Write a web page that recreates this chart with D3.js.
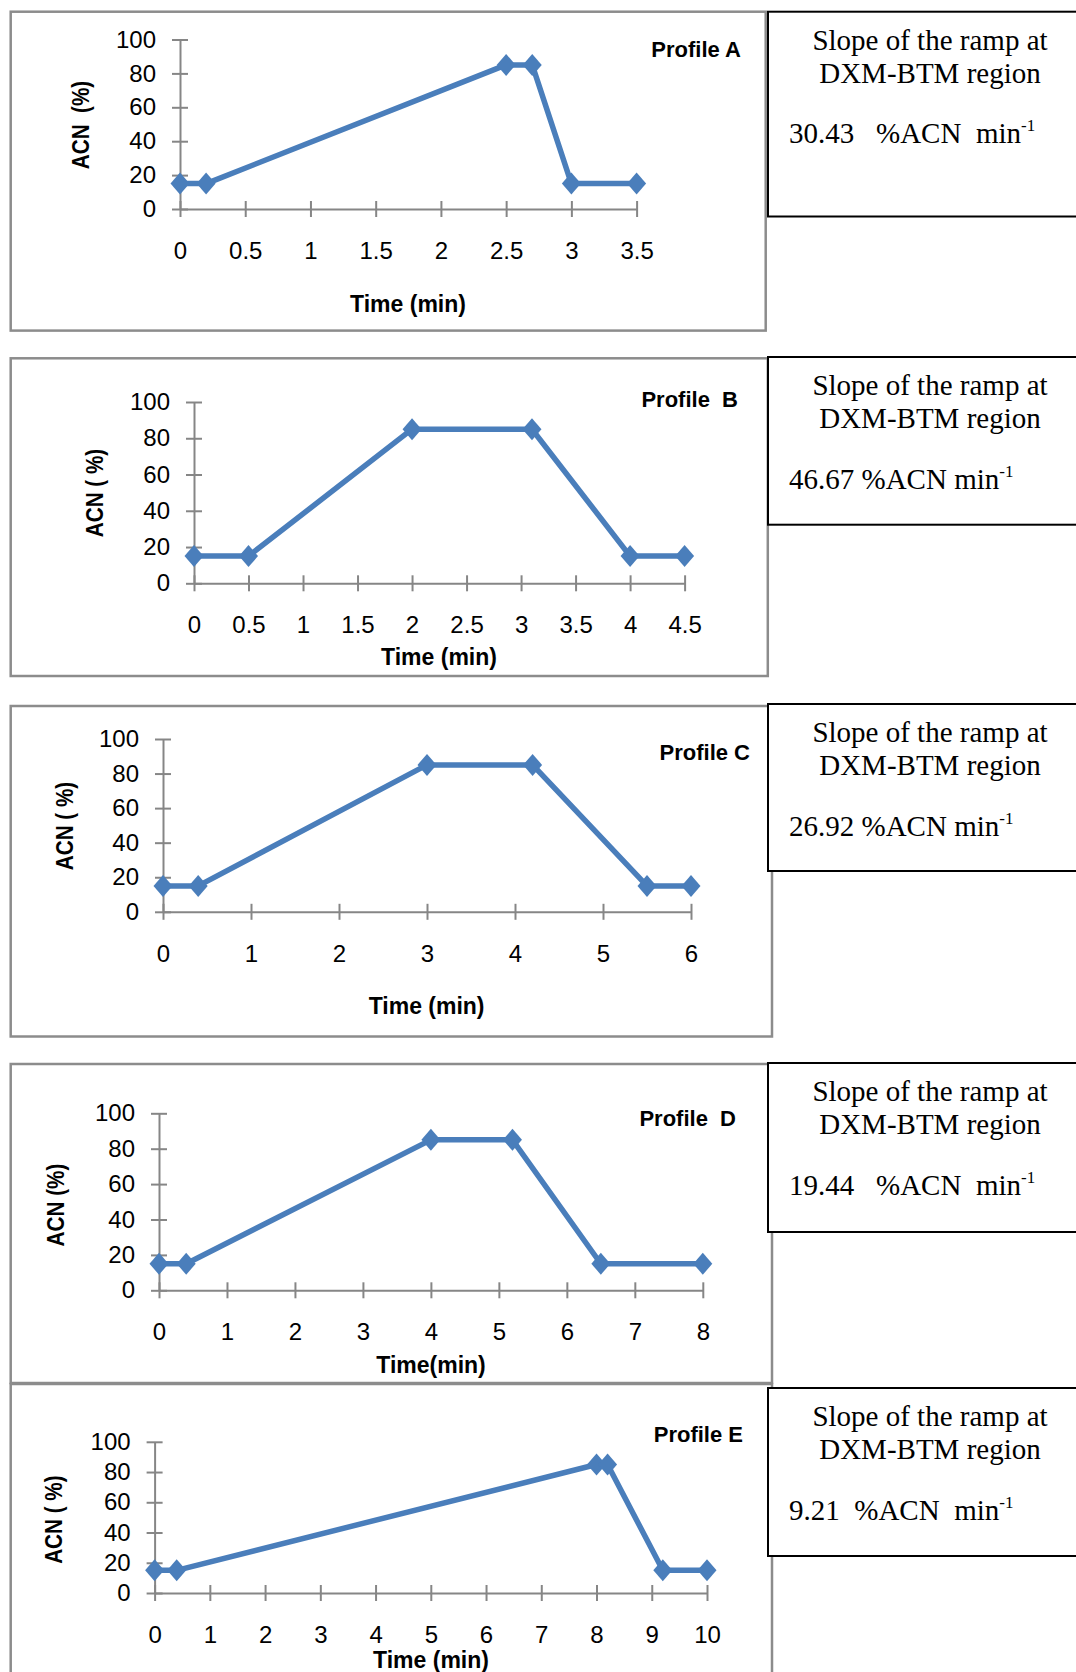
<!DOCTYPE html>
<html>
<head>
<meta charset="utf-8">
<script src="https://cdn.jsdelivr.net/npm/d3@7/dist/d3.min.js"></script>
<style>
  html, body { margin: 0; padding: 0; background: #fff; }
  svg { display: block; }
  text { white-space: pre; }
</style>
</head>
<body>
<svg id="chart" width="1076" height="1672"></svg>
<script>
// ---------------- DATA ----------------
const profileNames = ["Profile A", "Profile  B", "Profile C", "Profile  D", "Profile E"];

const timeA = [0, 0.2, 2.5, 2.7, 3, 3.5];
const acnA  = [15, 15, 85, 85, 15, 15];
const timeB = [0, 0.5, 2, 3.1, 4, 4.5];
const acnB  = [15, 15, 85, 85, 15, 15];
const timeC = [0, 0.4, 3, 4.2, 5.5, 6];
const acnC  = [15, 15, 85, 85, 15, 15];
const timeD = [0, 0.4, 4, 5.2, 6.5, 8];
const acnD  = [15, 15, 85, 85, 15, 15];
const timeE = [0, 0.4, 8, 8.2, 9.2, 10];
const acnE  = [15, 15, 85, 85, 15, 15];

const xTicksA = [0, 0.5, 1, 1.5, 2, 2.5, 3, 3.5];
const xTicksB = [0, 0.5, 1, 1.5, 2, 2.5, 3, 3.5, 4, 4.5];
const xTicksC = [0, 1, 2, 3, 4, 5, 6];
const xTicksD = [0, 1, 2, 3, 4, 5, 6, 7, 8];
const xTicksE = [0, 1, 2, 3, 4, 5, 6, 7, 8, 9, 10];
const yTicks  = [0, 20, 40, 60, 80, 100];

const xTitles = ["Time (min)", "Time (min)", "Time (min)", "Time(min)", "Time (min)"];
const yTitles = ["ACN  (%)", "ACN ( %)", "ACN ( %)", "ACN (%)", "ACN ( %)"];

const slopeValues = ["30.43", "46.67", "26.92", "19.44", "9.21"];
const valueGaps   = ["   ", " ", " ", "   ", "  "];
const unitGaps    = ["  ", " ", " ", "  ", "  "];
const boxLine1 = "Slope of the ramp at";
const boxLine2 = "DXM-BTM region";

const series = [
  {t: timeA, v: acnA, ticks: xTicksA},
  {t: timeB, v: acnB, ticks: xTicksB},
  {t: timeC, v: acnC, ticks: xTicksC},
  {t: timeD, v: acnD, ticks: xTicksD},
  {t: timeE, v: acnE, ticks: xTicksE}
];

// ---------------- LAYOUT ----------------
const layout = [
  {frame:[10.7, 11.7, 765.7, 330.6], box:[768, 11.7, 1092, 216.5], px:[180, 636.6], py:[209, 39.5], xt:[408, 304], yt:[80, 125], pl:[741, 49]},
  {frame:[10.7, 358.3, 767.8, 676],  box:[768, 357, 1092, 524.7],  px:[194, 684.6], py:[583.3, 402], xt:[439, 657], yt:[94, 493], pl:[738, 399]},
  {frame:[10.7, 706, 772, 1036.5],   box:[768, 704, 1092, 871],    px:[163, 691],   py:[911.8, 739], xt:[426.6, 1005.6], yt:[64, 826], pl:[750, 752]},
  {frame:[10.7, 1064, 772, 1383],    box:[768, 1063, 1092, 1232],  px:[159, 702.8], py:[1290.3, 1113.3], xt:[431, 1365], yt:[55.5, 1205], pl:[736, 1117.6]},
  {frame:[10.7, 1384, 772, 1700],    box:[768, 1388, 1092, 1556],  px:[154.6, 707], py:[1593, 1441.8], xt:[431, 1660], yt:[53, 1519.6], pl:[743, 1434]}
];

const lineColor = "#4a7ebb";
const axisColor = "#868686";
const frameColor = "#8c8c8c";
const chartFont = "'Liberation Sans', Arial, sans-serif";
const serifFont = "'Liberation Serif', 'Times New Roman', serif";

const svg = d3.select("#chart");

series.forEach((s, i) => {
  const L = layout[i];
  const g = svg.append("g");

  // chart frame
  g.append("rect")
    .attr("x", L.frame[0]).attr("y", L.frame[1])
    .attr("width", L.frame[2] - L.frame[0]).attr("height", L.frame[3] - L.frame[1])
    .attr("fill", "none").attr("stroke", frameColor).attr("stroke-width", 2.5);

  // text box
  g.append("rect")
    .attr("x", L.box[0]).attr("y", L.box[1])
    .attr("width", L.box[2] - L.box[0]).attr("height", L.box[3] - L.box[1])
    .attr("fill", "#fff").attr("stroke", "#000").attr("stroke-width", 2);

  const bcx = (L.box[0] + L.box[2]) / 2;
  const tb = g.append("g").attr("font-family", serifFont).attr("font-size", 29).attr("fill", "#000");
  tb.append("text").attr("x", bcx).attr("y", L.box[1] + 28.8 + 9).attr("text-anchor", "middle").text(boxLine1);
  tb.append("text").attr("x", bcx).attr("y", L.box[1] + 61.8 + 9).attr("text-anchor", "middle").text(boxLine2);
  const vt = tb.append("text").attr("x", 789).attr("y", L.box[1] + 122.6 + 9);
  vt.append("tspan").text(slopeValues[i] + valueGaps[i] + "%ACN" + unitGaps[i] + "min");
  vt.append("tspan").attr("font-size", 17).attr("dy", -12).text("-1");

  // scales
  const x = d3.scaleLinear().domain([0, d3.max(s.ticks)]).range(L.px);
  const y = d3.scaleLinear().domain([0, 100]).range(L.py);

  // y axis
  const ya = g.append("g").attr("transform", `translate(${L.px[0]},0)`)
    .call(d3.axisLeft(y).tickValues(yTicks).tickSize(8).tickSizeOuter(0).tickPadding(16));
  ya.select(".domain").attr("stroke", axisColor).attr("stroke-width", 2);
  ya.selectAll(".tick line").attr("x1", 8).attr("stroke", axisColor).attr("stroke-width", 2);
  ya.selectAll(".tick text").attr("font-family", chartFont).attr("font-size", 24).attr("fill", "#000");

  // x axis
  const xa = g.append("g").attr("transform", `translate(0,${L.py[0]})`)
    .call(d3.axisBottom(x).tickValues(s.ticks).tickSize(8).tickSizeOuter(0).tickPadding(25).tickFormat(d3.format("")));
  xa.select(".domain").attr("stroke", axisColor).attr("stroke-width", 2);
  xa.selectAll(".tick line").attr("y1", -8).attr("stroke", axisColor).attr("stroke-width", 2);
  xa.selectAll(".tick text").attr("font-family", chartFont).attr("font-size", 24).attr("fill", "#000");

  // line
  const pts = s.t.map((t, k) => [t, s.v[k]]);
  g.append("path")
    .attr("d", d3.line().x(d => x(d[0])).y(d => y(d[1]))(pts))
    .attr("fill", "none").attr("stroke", lineColor).attr("stroke-width", 5.5)
    .attr("stroke-linejoin", "round");

  // diamond markers
  const rx = 9.5, ry = 11;
  g.selectAll(".mk").data(pts).enter().append("path")
    .attr("transform", d => `translate(${x(d[0])},${y(d[1])})`)
    .attr("d", `M0,${-ry}L${rx},0L0,${ry}L${-rx},0Z`)
    .attr("fill", lineColor);

  // axis titles
  g.append("text").attr("x", L.xt[0]).attr("y", L.xt[1] + 8)
    .attr("text-anchor", "middle").attr("font-family", chartFont).attr("font-weight", "bold")
    .attr("font-size", 23).text(xTitles[i]);
  g.append("text").attr("transform", `translate(${L.yt[0] + 8.5},${L.yt[1]}) rotate(-90) scale(0.9,1)`)
    .attr("text-anchor", "middle").attr("font-family", chartFont).attr("font-weight", "bold")
    .attr("font-size", 23).text(yTitles[i]);

  // profile label
  g.append("text").attr("x", L.pl[0]).attr("y", L.pl[1] + 8)
    .attr("text-anchor", "end").attr("font-family", chartFont).attr("font-weight", "bold")
    .attr("font-size", 22).text(profileNames[i]);
});
</script>
</body>
</html>
